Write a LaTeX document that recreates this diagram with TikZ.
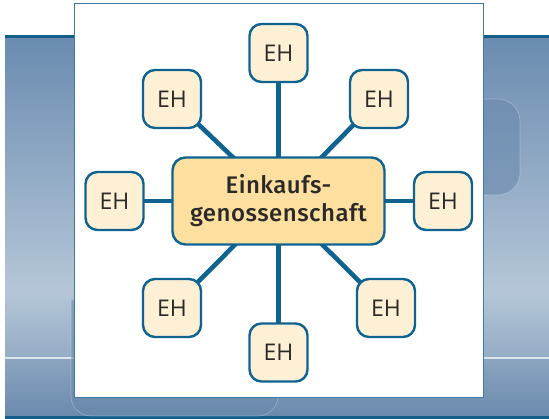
\documentclass[tikz,border=0pt]{standalone}
\usepackage{fontspec}
\newfontfamily\ehfont{Open Sans}
\newfontfamily\cfont[LetterSpace=2]{Fira Sans Medium}
\definecolor{lineblue}{HTML}{0F6391}
\definecolor{ehfill}{HTML}{FEF0D4}
\definecolor{cfill}{HTML}{FDE0A0}
\definecolor{txt}{HTML}{2B2A28}
\definecolor{bgA}{HTML}{6A8CB0}
\definecolor{bgB}{HTML}{B5C6D8}
\definecolor{bgC}{HTML}{94ACC5}
\definecolor{bgD}{HTML}{8CA5C0}
\definecolor{bgE}{HTML}{6A8AAD}
\definecolor{darkline}{HTML}{145E8B}
\definecolor{panelline}{HTML}{3C7AA3}
\pgfdeclarelayer{bglayer}
\pgfdeclarelayer{connlayer}
\pgfsetlayers{bglayer,connlayer,main}
\tikzset{
  ehbox/.style={draw=lineblue, line width=2.4pt, fill=ehfill, rounded corners=12pt,
    minimum width=58pt, minimum height=58pt, inner sep=0pt, text=txt,
    font=\ehfont\fontsize{23}{27}\selectfont},
  centerbox/.style={draw=lineblue, line width=2.4pt, fill=cfill, rounded corners=13pt,
    minimum width=212pt, minimum height=87pt, inner sep=0pt, text=txt, align=center,
    font=\cfont\fontsize{24}{28}\selectfont},
  conn/.style={draw=lineblue, line width=4.6pt}
}
\begin{document}
\begin{tikzpicture}[x=1pt,y=-1pt]
\useasboundingbox (0,0) rectangle (549,419);
\begin{pgfonlayer}{bglayer}
% background band
\shade[top color=bgA, bottom color=bgB] (5,38) rectangle (549,292);
\shade[top color=bgB, bottom color=bgC] (5,291.5) rectangle (549,358);
\shade[top color=bgD, bottom color=bgE] (5,358) rectangle (549,416);
\fill[white!80!bgB, opacity=0.8] (5,357) rectangle (549,359.5);
\fill[darkline] (5,35) rectangle (549,38.5);
\fill[darkline] (5,416) rectangle (549,419);
% faint rounded shapes
\draw[white, opacity=0.3, fill=bgE, fill opacity=0.6, line width=0.6pt, rounded corners=22pt]
  (440,99) -- (520,99) -- (520,195) -- (440,195);
\draw[white, opacity=0.3, fill=bgE, fill opacity=0.6, line width=0.6pt, rounded corners=20pt]
  (71,300) -- (71,416) -- (278,416) -- (278,300);
% panel
\fill[white] (74.5,3.5) rectangle (483,397);
\draw[panelline, line width=0.9pt] (74.5,36) -- (74.5,3.5) -- (483,3.5) -- (483,397) -- (74.5,397) -- (74.5,36);
\end{pgfonlayer}
% nodes
\node[centerbox] (c) at (278.5,201) {Einkaufs-\\genossenschaft};
\node[ehbox] (n) at (278.5,53) {EH};
\node[ehbox] (nw) at (172,99) {EH};
\node[ehbox] (ne) at (379,99) {EH};
\node[ehbox] (w) at (114.5,201) {EH};
\node[ehbox] (e) at (443,201) {EH};
\node[ehbox] (sw) at (172,308) {EH};
\node[ehbox] (se) at (386,308) {EH};
\node[ehbox] (s) at (278.5,352.5) {EH};
% connectors
\begin{pgfonlayer}{connlayer}
\foreach \t in {n,nw,ne,w,e,sw,se,s}{
  \draw[conn] (c.center) -- (\t.center);
}
\end{pgfonlayer}
\end{tikzpicture}
\end{document}
